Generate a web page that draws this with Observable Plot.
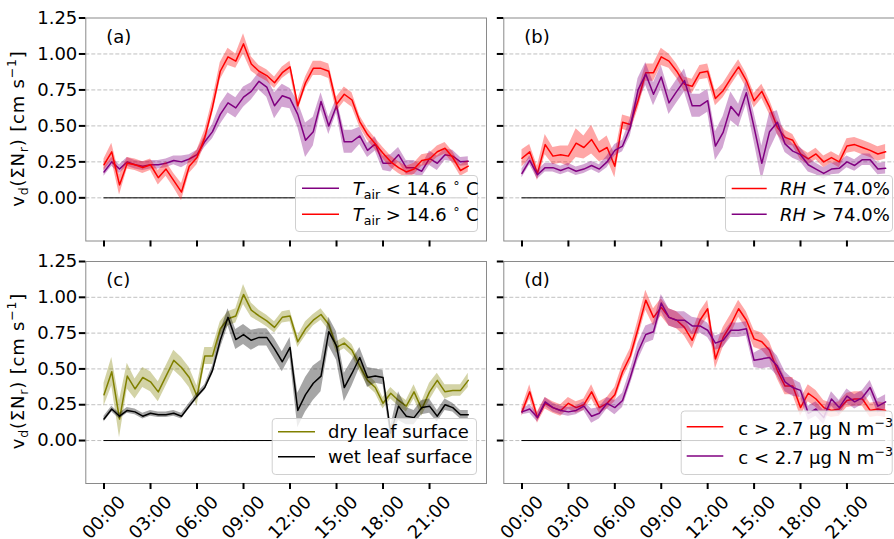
<!DOCTYPE html>
<html>
<head>
<meta charset="utf-8">
<script src="https://cdn.jsdelivr.net/npm/d3@7"></script>
<script src="https://cdn.jsdelivr.net/npm/@observablehq/plot@0.6"></script>
<style>
  html, body { margin: 0; padding: 0; background: #fff; width: 894px; height: 539px; overflow: hidden; }
  #fig { position: relative; width: 894px; height: 539px; overflow: hidden; font-family: "DejaVu Sans", sans-serif; }
  .panel { position: absolute; }
  #overlay { position: absolute; left: 0; top: 0; pointer-events: none; }
</style>
</head>
<body>
<div id="fig"></div>
<script>
// ---------- data ----------
const hours = [0,0.5,1,1.5,2,2.5,3,3.5,4,4.5,5,5.5,6,6.5,7,7.5,8,8.5,9,9.5,10,10.5,11,11.5,
               12,12.5,13,13.5,14,14.5,15,15.5,16,16.5,17,17.5,18,18.5,19,19.5,20,20.5,21,21.5,22,22.5,23,23.5];
const xTicks = [0,3,6,9,12,15,18,21];
const xTickLabels = ["00:00","03:00","06:00","09:00","12:00","15:00","18:00","21:00"];
const yTicks = [0,0.25,0.5,0.75,1.0,1.25];
const yGrid = [0,0.25,0.5,0.75,1.0];

// (a) air temperature
const tairLow  = [0.18,0.25,0.20,0.25,0.23,0.22,0.23,0.23,0.24,0.26,0.25,0.27,0.30,0.39,0.46,0.58,0.66,0.625,0.70,0.74,0.81,0.77,0.64,0.71,
                  0.69,0.58,0.40,0.46,0.67,0.50,0.64,0.39,0.39,0.43,0.33,0.375,0.24,0.24,0.30,0.21,0.21,0.185,0.275,0.24,0.30,0.29,0.25,0.255];
const tairLowErr = [0.03,0.03,0.03,0.03,0.03,0.03,0.03,0.03,0.03,0.03,0.04,0.03,0.03,0.04,0.05,0.07,0.07,0.07,0.07,0.06,0.06,0.07,0.09,0.08,
                    0.07,0.09,0.12,0.10,0.06,0.06,0.05,0.08,0.08,0.06,0.05,0.05,0.05,0.06,0.05,0.05,0.05,0.04,0.05,0.05,0.04,0.04,0.03,0.03];
const tairHigh = [0.23,0.32,0.09,0.24,0.23,0.21,0.23,0.14,0.20,0.12,0.04,0.22,0.28,0.42,0.63,0.88,0.98,0.95,1.07,0.93,0.88,0.85,0.80,0.87,
                  0.91,0.64,0.80,0.90,0.90,0.88,0.65,0.72,0.68,0.53,0.44,0.375,0.31,0.25,0.21,0.18,0.20,0.26,0.27,0.32,0.345,0.28,0.19,0.22];
const tairHighErr = [0.04,0.06,0.07,0.04,0.04,0.04,0.04,0.05,0.05,0.05,0.06,0.05,0.05,0.05,0.05,0.06,0.06,0.05,0.07,0.05,0.04,0.04,0.04,0.04,
                     0.04,0.04,0.04,0.05,0.05,0.05,0.05,0.05,0.05,0.04,0.04,0.04,0.04,0.04,0.04,0.04,0.04,0.04,0.04,0.04,0.04,0.04,0.04,0.04];
// (b) relative humidity
const rhLow  = [0.275,0.32,0.17,0.37,0.29,0.30,0.29,0.38,0.35,0.405,0.32,0.35,0.22,0.525,0.51,0.675,0.87,0.87,0.98,0.95,0.88,0.79,0.775,0.87,
                0.88,0.69,0.745,0.83,0.91,0.815,0.675,0.74,0.63,0.49,0.42,0.40,0.305,0.27,0.305,0.25,0.28,0.25,0.36,0.37,0.35,0.33,0.305,0.32];
const rhLowErr = [0.06,0.05,0.05,0.07,0.06,0.06,0.07,0.10,0.08,0.10,0.07,0.08,0.08,0.05,0.05,0.06,0.06,0.06,0.06,0.05,0.05,0.05,0.05,0.05,
                  0.05,0.05,0.05,0.05,0.05,0.05,0.05,0.05,0.05,0.05,0.05,0.04,0.04,0.04,0.04,0.04,0.04,0.04,0.05,0.05,0.05,0.05,0.05,0.05];
const rhHigh = [0.17,0.26,0.16,0.21,0.21,0.19,0.21,0.185,0.20,0.225,0.20,0.25,0.33,0.36,0.49,0.75,0.86,0.72,0.84,0.66,0.74,0.815,0.64,0.64,
                0.675,0.36,0.455,0.635,0.57,0.73,0.49,0.24,0.46,0.525,0.375,0.325,0.30,0.23,0.20,0.17,0.20,0.205,0.25,0.225,0.265,0.265,0.20,0.205];
const rhHighErr = [0.03,0.03,0.03,0.03,0.03,0.03,0.03,0.03,0.03,0.03,0.03,0.04,0.04,0.04,0.06,0.08,0.08,0.08,0.08,0.08,0.08,0.08,0.08,0.08,
                   0.08,0.10,0.11,0.10,0.08,0.08,0.10,0.12,0.13,0.08,0.06,0.05,0.05,0.05,0.04,0.04,0.04,0.04,0.04,0.04,0.04,0.04,0.04,0.04];
// (c) leaf surface
const dryLeaf = [0.32,0.48,0.15,0.45,0.36,0.44,0.41,0.34,0.45,0.56,0.51,0.44,0.31,0.59,0.59,0.78,0.85,0.87,1.02,0.91,0.87,0.835,0.79,0.86,
                 0.87,0.69,0.78,0.84,0.88,0.81,0.65,0.68,0.63,0.52,0.42,0.37,0.26,0.33,0.28,0.24,0.34,0.22,0.34,0.42,0.34,0.35,0.35,0.42];
const dryLeafErr = [0.08,0.10,0.13,0.09,0.07,0.07,0.07,0.07,0.07,0.07,0.07,0.07,0.07,0.06,0.06,0.05,0.05,0.05,0.07,0.05,0.04,0.04,0.04,0.04,
                    0.04,0.04,0.05,0.04,0.04,0.04,0.04,0.04,0.04,0.04,0.04,0.04,0.04,0.04,0.04,0.04,0.05,0.05,0.06,0.05,0.05,0.04,0.04,0.05];
const wetLeaf = [0.15,0.22,0.17,0.21,0.20,0.17,0.19,0.18,0.18,0.19,0.17,0.24,0.31,0.37,0.49,0.70,0.86,0.705,0.74,0.70,0.72,0.72,0.64,0.55,
                 0.65,0.21,0.32,0.40,0.45,0.76,0.66,0.37,0.47,0.58,0.44,0.45,0.44,0.05,0.24,0.17,0.16,0.23,0.24,0.17,0.25,0.23,0.18,0.18];
const wetLeafErr = [0.02,0.02,0.02,0.02,0.02,0.02,0.02,0.02,0.02,0.02,0.02,0.02,0.02,0.02,0.03,0.06,0.06,0.07,0.07,0.07,0.06,0.06,0.07,0.07,
                    0.07,0.12,0.12,0.12,0.11,0.10,0.10,0.10,0.09,0.07,0.07,0.05,0.05,0.05,0.10,0.06,0.05,0.05,0.05,0.04,0.04,0.03,0.03,0.03];
// (d) concentration
const concHigh = [0.20,0.34,0.16,0.26,0.23,0.21,0.26,0.23,0.25,0.34,0.23,0.26,0.32,0.48,0.59,0.78,0.98,0.86,0.93,0.86,0.84,0.79,0.70,0.84,
                  0.92,0.57,0.72,0.81,0.92,0.84,0.71,0.69,0.63,0.49,0.38,0.38,0.23,0.33,0.29,0.23,0.21,0.22,0.28,0.29,0.29,0.21,0.22,0.21];
const concHighErr = [0.03,0.05,0.04,0.04,0.04,0.04,0.04,0.04,0.04,0.05,0.04,0.04,0.05,0.05,0.05,0.06,0.07,0.06,0.06,0.06,0.06,0.06,0.06,0.06,
                     0.06,0.07,0.07,0.07,0.06,0.06,0.06,0.06,0.06,0.06,0.06,0.06,0.06,0.06,0.06,0.05,0.05,0.05,0.05,0.05,0.05,0.05,0.05,0.05];
const concLow = [0.20,0.22,0.16,0.27,0.23,0.21,0.20,0.21,0.24,0.17,0.19,0.26,0.23,0.28,0.44,0.62,0.74,0.76,0.96,0.86,0.84,0.84,0.80,0.80,
                 0.77,0.68,0.70,0.77,0.77,0.78,0.56,0.57,0.58,0.52,0.41,0.37,0.35,0.19,0.22,0.16,0.29,0.23,0.31,0.27,0.30,0.37,0.24,0.27];
const concLowErr = [0.02,0.03,0.03,0.03,0.03,0.03,0.03,0.03,0.03,0.05,0.04,0.04,0.05,0.05,0.05,0.06,0.06,0.06,0.06,0.06,0.06,0.06,0.06,0.05,
                    0.05,0.05,0.05,0.05,0.05,0.05,0.05,0.07,0.07,0.07,0.07,0.06,0.05,0.05,0.05,0.05,0.05,0.05,0.05,0.05,0.05,0.05,0.05,0.05];

const RED = "#ff0000", PURPLE = "#800080", OLIVE = "#808000", BLACK = "#000000";

// legend label rich-text segments
const labTairLow  = [{t:"T", i:true},{t:"air", sub:true},{t:" < 14.6 "},{t:"∘", sup:true},{t:" C"}];
const labTairHigh = [{t:"T", i:true},{t:"air", sub:true},{t:" > 14.6 "},{t:"∘", sup:true},{t:" C"}];
const labRhLow  = [{t:"RH", i:true},{t:" < 74.0%"}];
const labRhHigh = [{t:"RH", i:true},{t:" > 74.0%"}];
const labDry = [{t:"dry leaf surface"}];
const labWet = [{t:"wet leaf surface"}];
const labConcHigh = [{t:"c > 2.7 µg N m"},{t:"−3", sup:true}];
const labConcLow  = [{t:"c < 2.7 µg N m"},{t:"−3", sup:true}];
const yLabelSegs = [{t:"v"},{t:"d", sub:true},{t:"(ΣN"},{t:"r", sub:true},{t:") [cm s"},{t:"−1", sup:true},{t:"]"}];

// ---------- drawing ----------
const FONT = "'DejaVu Sans', sans-serif";
const fig = d3.select("#fig");

function table(vals, errs) {
  return hours.map((h, i) => ({h, v: vals[i], lo: vals[i] - errs[i], hi: vals[i] + errs[i]}));
}

function makePanel({series, left, top, width, height, ml, mr, mt, mb, tag, yLabels, xLabels}) {
  const marks = [
    Plot.gridY(yGrid, {stroke: "#b0b0b0", strokeOpacity: 1, strokeWidth: 0.8, strokeDasharray: "4,2"}),
    Plot.ruleY([0], {x1: () => hours[0], x2: () => hours[hours.length - 1], stroke: "black", strokeWidth: 1})
  ];
  for (const s of series) {
    const rows = table(s.vals, s.errs);
    marks.push(Plot.areaY(rows, {x: "h", y1: "lo", y2: "hi", fill: s.color, fillOpacity: 0.35, curve: "linear"}));
    marks.push(Plot.lineY(rows, {x: "h", y: "v", stroke: s.color, strokeWidth: 1.5, curve: "linear"}));
  }
  marks.push(Plot.frame({stroke: "#8a8a8a", strokeWidth: 1}));
  marks.push(Plot.axisY({ticks: yTicks, tickSize: 6.5, tickPadding: 2, strokeWidth: 2, stroke: "black",
                         label: null, fontSize: 18, fill: yLabels ? "black" : "none",
                         tickFormat: d => d.toFixed(2)}));
  marks.push(Plot.axisX({ticks: xTicks, tickSize: 6, strokeWidth: 2, stroke: "black", label: null,
                         fill: "none", tickFormat: () => ""}));
  if (xLabels) {
    marks.push(Plot.text(xTicks, {x: d => d, text: (d, i) => xTickLabels[i], frameAnchor: "bottom",
                                  rotate: -45, textAnchor: "middle", lineAnchor: "middle", dy: 34,
                                  fontSize: 18, fill: "black"}));
  }
  marks.push(Plot.text([tag], {text: d => d, frameAnchor: "top-left", textAnchor: "start", lineAnchor: "top",
                               dx: 20.5, dy: 12, fontSize: 18, fill: "black"}));
  const chart = Plot.plot({
    width, height,
    marginLeft: ml, marginRight: mr, marginTop: mt, marginBottom: mb,
    x: {domain: [-1.175, 24.675]},
    y: {domain: [-0.3, 1.25]},
    style: {fontFamily: FONT, fontSize: "18px", color: "black", background: "transparent", overflow: "visible"},
    marks
  });
  chart.classList.add("panel");
  chart.style.left = left + "px";
  chart.style.top = top + "px";
  fig.node().appendChild(chart);
}

makePanel({series: [{vals: tairLow, errs: tairLowErr, color: PURPLE}, {vals: tairHigh, errs: tairHighErr, color: RED}],
           left: 0, top: 0, width: 490, height: 252, ml: 85.3, mr: 4, mt: 17.5, mb: 11.5, tag: "(a)", yLabels: true, xLabels: false});
makePanel({series: [{vals: rhLow, errs: rhLowErr, color: RED}, {vals: rhHigh, errs: rhHighErr, color: PURPLE}],
           left: 490, top: 0, width: 416, height: 252, ml: 13.3, mr: 2.7, mt: 17.5, mb: 11.5, tag: "(b)", yLabels: false, xLabels: false});
makePanel({series: [{vals: dryLeaf, errs: dryLeafErr, color: OLIVE}, {vals: wetLeaf, errs: wetLeafErr, color: BLACK}],
           left: 0, top: 252, width: 490, height: 287, ml: 85.3, mr: 4, mt: 9, mb: 56, tag: "(c)", yLabels: true, xLabels: true});
makePanel({series: [{vals: concHigh, errs: concHighErr, color: RED}, {vals: concLow, errs: concLowErr, color: PURPLE}],
           left: 490, top: 252, width: 416, height: 287, ml: 13.3, mr: 2.7, mt: 9, mb: 56, tag: "(d)", yLabels: false, xLabels: true});

// ---------- overlay: y labels & legends ----------
const ov = fig.append("svg").attr("id", "overlay").attr("width", 894).attr("height", 539)
  .attr("font-family", FONT).attr("font-size", 18);

function rich(textSel, segs, size) {
  let shift = 0;
  for (const s of segs) {
    const target = s.sub ? size * 0.24 : s.sup ? -size * 0.42 : 0;
    const ts = textSel.append("tspan").attr("dy", target - shift).text(s.t);
    if (s.sub || s.sup) ts.attr("font-size", size * 0.7);
    if (s.i) ts.attr("font-style", "italic");
    shift = target;
  }
}

for (const cy of [128.5, 371]) {
  const t = ov.append("text").attr("transform", `translate(23.5,${cy}) rotate(-90)`)
    .attr("text-anchor", "middle").style("white-space", "pre").style("letter-spacing", "0.8px").attr("fill", "black");
  rich(t, yLabelSegs, 18);
}

const legends = [
  {box: [295, 175, 182, 56], lx: [302, 339], tx: 352.7, rows: [188.3, 214.3], base: 6.7,
   entries: [{color: PURPLE, segs: labTairLow}, {color: RED, segs: labTairHigh}]},
  {box: [725, 175, 167, 56], lx: [731.7, 766.7], tx: 780, rows: [188.5, 214.3], base: 6.7,
   entries: [{color: RED, segs: labRhLow}, {color: PURPLE, segs: labRhHigh}]},
  {box: [271.7, 418, 204.3, 56], lx: [278, 315], tx: 328, rows: [431.7, 456.7], base: 6.7,
   entries: [{color: OLIVE, segs: labDry}, {color: BLACK, segs: labWet}]},
  {box: [680.7, 410.5, 211, 63.5], lx: [686.7, 723.3], tx: 738.3, rows: [426.7, 456], base: 8,
   entries: [{color: RED, segs: labConcHigh}, {color: PURPLE, segs: labConcLow}]}
];
for (const L of legends) {
  const g = ov.append("g");
  g.append("rect").attr("x", L.box[0] + 0.5).attr("y", L.box[1] + 0.5).attr("width", L.box[2]).attr("height", L.box[3])
    .attr("rx", 3.5).attr("fill", "white").attr("fill-opacity", 0.8).attr("stroke", "#d0d0d0").attr("stroke-width", 1);
  L.entries.forEach((e, i) => {
    const y = L.rows[i];
    g.append("line").attr("x1", L.lx[0]).attr("x2", L.lx[1]).attr("y1", y).attr("y2", y)
      .attr("stroke", e.color).attr("stroke-width", 1.5);
    const t = g.append("text").attr("x", L.tx).attr("y", y + L.base).style("white-space", "pre").attr("fill", "black");
    rich(t, e.segs, 18);
  });
}
</script>
</body>
</html>
